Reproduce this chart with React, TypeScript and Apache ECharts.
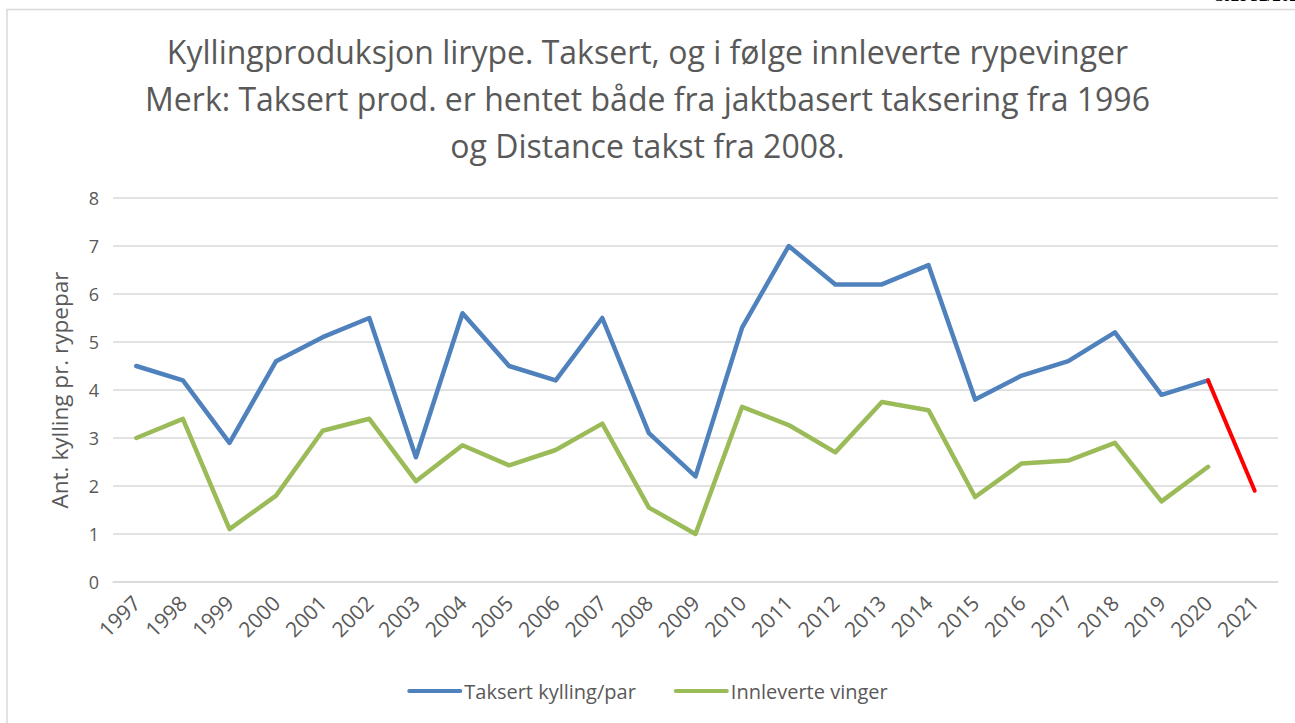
import React, { useEffect, useRef } from "react";
import * as echarts from "echarts";

const years = [
  "1997", "1998", "1999", "2000", "2001", "2002", "2003", "2004", "2005", "2006",
  "2007", "2008", "2009", "2010", "2011", "2012", "2013", "2014", "2015", "2016",
  "2017", "2018", "2019", "2020", "2021",
];

const taksert = [
  4.5, 4.2, 2.9, 4.6, 5.1, 5.5, 2.6, 5.6, 4.5, 4.2,
  5.5, 3.1, 2.2, 5.3, 7.0, 6.2, 6.2, 6.6, 3.8, 4.3,
  4.6, 5.2, 3.9, 4.2, null,
];

const vinger = [
  3.0, 3.4, 1.1, 1.8, 3.15, 3.4, 2.1, 2.85, 2.43, 2.75,
  3.3, 1.55, 1.0, 3.65, 3.27, 2.7, 3.75, 3.58, 1.77, 2.47,
  2.53, 2.9, 1.68, 2.4, null,
];

const taksertForecast = [
  null, null, null, null, null, null, null, null, null, null,
  null, null, null, null, null, null, null, null, null, null,
  null, null, null, 4.2, 1.9,
];

const yTicks = [0, 1, 2, 3, 4, 5, 6, 7, 8];

const titleText =
  "Kyllingproduksjon lirype. Taksert, og i følge innleverte rypevinger\nMerk: Taksert prod. er hentet både fra jaktbasert taksering fra 1996\nog Distance takst fra 2008.";

const FONT = "'Open Sans', 'Noto Sans', sans-serif";
const TEXT = "#595959";

export default function App() {
  const ref = useRef<HTMLDivElement>(null);

  useEffect(() => {
    document.body.style.margin = "0";
    const chart = echarts.init(ref.current!, null, { renderer: "svg" });
    const lineIcon = "path://M2,0 L53,0 A2,2 0 0 1 53,4 L2,4 A2,2 0 0 1 2,0 Z";
    chart.setOption({
      animation: false,
      backgroundColor: "#ffffff",
      textStyle: { fontFamily: FONT },
      title: {
        text: titleText,
        left: "center",
        top: 23,
        textStyle: {
          fontFamily: FONT,
          fontSize: 32,
          fontWeight: "normal",
          color: TEXT,
          lineHeight: 47,
        },
      },
      graphic: [
        {
          type: "rect",
          shape: { x: 7, y: 9.5, width: 1400, height: 800 },
          style: { fill: "none", stroke: "#d9d9d9", lineWidth: 1.5 },
          silent: true,
        },
        {
          type: "text",
          x: 1215,
          y: -13,
          style: {
            text: "Side 32/2021",
            font: "bold 17px 'Liberation Serif', serif",
            fill: "#000",
          },
          silent: true,
        },
      ],
      legend: {
        data: ["Taksert kylling/par", "Innleverte vinger"],
        left: "center",
        bottom: 17,
        icon: lineIcon,
        itemWidth: 55,
        itemHeight: 5,
        itemGap: 38,
        textStyle: { fontFamily: FONT, fontSize: 20, color: TEXT, padding: [0, 0, 0, -3] },
      },
      grid: { left: 113, right: 17, top: 198, bottom: 141, containLabel: false },
      xAxis: {
        type: "category",
        data: years,
        boundaryGap: true,
        axisLine: { show: true, lineStyle: { color: "#d9d9d9", width: 1.5 } },
        axisTick: { show: false },
        axisLabel: {
          rotate: 45,
          color: TEXT,
          fontSize: 21,
          fontFamily: FONT,
          margin: 17,
          interval: 0,
        },
      },
      yAxis: {
        type: "value",
        min: yTicks[0],
        max: yTicks[yTicks.length - 1],
        interval: 1,
        name: "Ant. kylling pr. rypepar",
        nameLocation: "middle",
        nameGap: 42,
        nameRotate: 90,
        nameTextStyle: { fontFamily: FONT, fontSize: 22.5, color: TEXT },
        axisLine: { show: false },
        axisTick: { show: false },
        axisLabel: { color: TEXT, fontSize: 18, fontFamily: FONT, margin: 14 },
        splitLine: { lineStyle: { color: "#d9d9d9", width: 1.5 } },
      },
      series: [
        {
          name: "Taksert kylling/par",
          type: "line",
          data: taksert,
          showSymbol: false,
          symbol: "none",
          color: "#4f81bd",
          lineStyle: { color: "#4f81bd", width: 4.5, cap: "round", join: "round" },
        },
        {
          name: "Innleverte vinger",
          type: "line",
          data: vinger,
          showSymbol: false,
          symbol: "none",
          color: "#9bbb59",
          lineStyle: { color: "#9bbb59", width: 4.5, cap: "round", join: "round" },
        },
        {
          name: "Prognose",
          type: "line",
          data: taksertForecast,
          showSymbol: false,
          symbol: "none",
          color: "#ff0000",
          lineStyle: { color: "#ff0000", width: 4, cap: "round", join: "round" },
        },
      ],
    });
    return () => chart.dispose();
  }, []);

  return <div ref={ref} style={{ width: 1295, height: 723 }} />;
}
